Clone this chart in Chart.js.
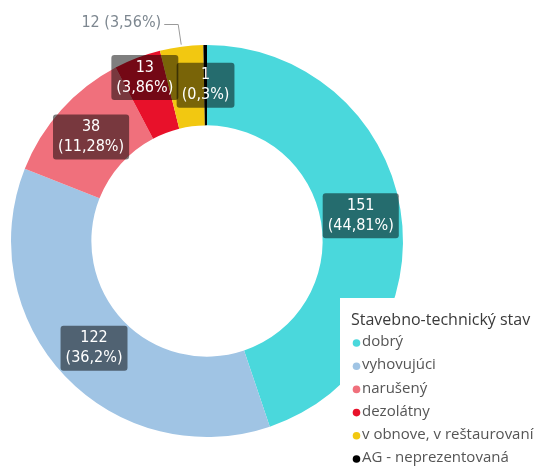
<!DOCTYPE html>
<html>
<head>
<meta charset="utf-8">
<script src="https://cdn.jsdelivr.net/npm/chart.js@4"></script>
<style>
  html, body { margin: 0; padding: 0; background: #fff; }
  #wrap { width: 538px; height: 466px; }
</style>
</head>
<body>
<div id="wrap"><canvas id="stavChart" width="538" height="466"></canvas></div>
<script>
const legendTitle = 'Stavebno-technický stav';
const categories = ['dobrý', 'vyhovujúci', 'narušený', 'dezolátny', 'v obnove, v reštaurovaní', 'AG - neprezentovaná'];
const counts = [151, 122, 38, 13, 12, 1];
const percentLabels = ['44,81%', '36,2%', '11,28%', '3,86%', '3,56%', '0,3%'];
const sliceColors = ['#4AD8DC', '#A0C4E4', '#F0707C', '#E8112A', '#F2C811', '#000000'];

// labels drawn inside the ring as dark boxes, or outside with a leader line
const labelPlugin = {
  id: 'sliceLabels',
  afterDatasetsDraw(chart) {
    const ctx = chart.ctx;
    const meta = chart.getDatasetMeta(0);
    const font = "16px 'DejaVu Sans Condensed', 'Roboto', sans-serif";
    meta.data.forEach((arc, i) => {
      const p = arc.getProps(['x', 'y', 'startAngle', 'endAngle', 'innerRadius', 'outerRadius']);
      const mid = (p.startAngle + p.endAngle) / 2;
      const line1 = String(counts[i]);
      const line2 = '(' + percentLabels[i] + ')';
      if (i === 4) {
        // outside label with leader
        const ox = p.x + Math.cos(mid) * (p.outerRadius + 2);
        const oy = p.y + Math.sin(mid) * (p.outerRadius + 2);
        ctx.save();
        ctx.strokeStyle = '#9a9a9a';
        ctx.lineWidth = 1;
        ctx.beginPath();
        ctx.moveTo(ox, oy);
        ctx.lineTo(ox - 3, 24.5);
        ctx.lineTo(ox - 17, 24.5);
        ctx.stroke();
        ctx.font = font;
        ctx.fillStyle = '#7d8790';
        ctx.textAlign = 'right';
        ctx.textBaseline = 'middle';
        ctx.fillText(line1 + ' ' + line2, ox - 20, 23);
        ctx.restore();
        return;
      }
      let r = (p.innerRadius + p.outerRadius) / 2;
      if (i === 3) r += 19;
      const cx = p.x + Math.cos(mid) * r;
      const cy = p.y + Math.sin(mid) * r;
      ctx.save();
      ctx.font = font;
      const w = Math.max(ctx.measureText(line1).width, ctx.measureText(line2).width) + 10;
      const h = 45;
      ctx.fillStyle = 'rgba(0,0,0,0.5)';
      ctx.beginPath();
      ctx.roundRect(cx - w / 2, cy - h / 2, w, h, 3);
      ctx.fill();
      ctx.fillStyle = '#ffffff';
      ctx.textAlign = 'center';
      ctx.textBaseline = 'middle';
      ctx.fillText(line1, cx, cy - 10);
      ctx.fillText(line2, cx, cy + 10);
      ctx.restore();
    });
  }
};

// legend box sits on top of the chart, like in the report
const legendPlugin = {
  id: 'boxLegend',
  afterDraw(chart) {
    const ctx = chart.ctx;
    const x0 = 340, y0 = 298;
    ctx.save();
    ctx.fillStyle = '#ffffff';
    ctx.fillRect(x0, y0, chart.width - x0, chart.height - y0);
    ctx.font = "16px 'Open Sans', 'Noto Sans', sans-serif";
    ctx.fillStyle = '#3a3a3a';
    ctx.textBaseline = 'middle';
    ctx.textAlign = 'left';
    ctx.fillText(legendTitle, 351, 320);
    ctx.font = "15px 'Open Sans', 'Noto Sans', sans-serif";
    categories.forEach((name, i) => {
      const y = 343 + i * 23.2;
      ctx.fillStyle = sliceColors[i];
      ctx.beginPath();
      ctx.arc(356.5, y, 3.8, 0, Math.PI * 2);
      ctx.fill();
      ctx.fillStyle = '#555555';
      ctx.fillText(name, 362, y - 1);
    });
    ctx.restore();
  }
};

const ctx = document.getElementById('stavChart').getContext('2d');
new Chart(ctx, {
  type: 'doughnut',
  data: {
    labels: categories,
    datasets: [{
      data: counts,
      backgroundColor: sliceColors,
      borderWidth: 0,
      hoverOffset: 0
    }]
  },
  options: {
    responsive: false,
    animation: false,
    cutout: '59%',
    layout: { padding: { left: 11, top: 45, right: 135, bottom: 29 } },
    plugins: {
      legend: { display: false },
      tooltip: { enabled: false }
    }
  },
  plugins: [labelPlugin, legendPlugin]
});
</script>
</body>
</html>
